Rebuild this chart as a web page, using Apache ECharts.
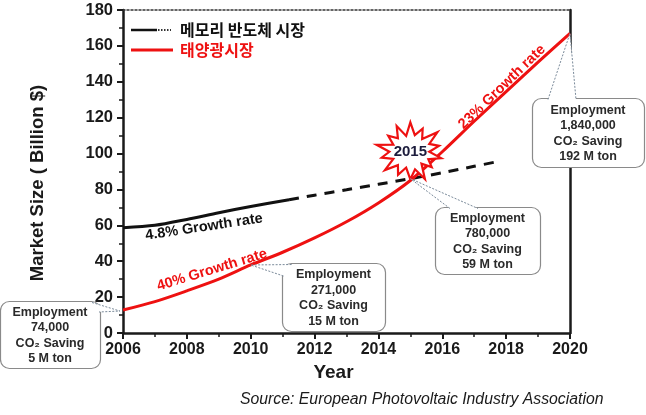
<!DOCTYPE html>
<html>
<head>
<meta charset="utf-8">
<script src="https://cdn.jsdelivr.net/npm/echarts@6/dist/echarts.min.js"></script>
<style>
html,body{margin:0;padding:0;background:#fff;}
#c{width:646px;height:415px;}
</style>
</head>
<body>
<div id="c"></div>
<script>
// ---- data ----
const solarYears = [2006, 2007, 2008, 2009, 2010, 2011, 2012, 2013, 2014, 2015, 2016, 2017, 2018, 2019, 2020];
const solarValues = [12.8, 17.5, 23.5, 30, 37.9, 45, 53, 62, 72.5, 85, 101, 118, 134.5, 151, 167];
const memoryActualYears = [2006, 2007, 2008, 2009, 2010, 2011.2];
const memoryActualValues = [58.7, 60, 63.3, 67, 70.5, 74.3];
const memoryForecastYears = [2011.2, 2012, 2013, 2014, 2015, 2016, 2017, 2017.7];
const memoryForecastValues = [74.3, 76.8, 79.8, 82.9, 86, 89.3, 92.9, 95.4];
const xTicks = [2006, 2008, 2010, 2012, 2014, 2016, 2018, 2020];
const yTicks = [0, 20, 40, 60, 80, 100, 120, 140, 160, 180];
const seriesNames = ['메모리 반도체 시장', '태양광시장'];
const callouts = [
  { year: 2006, value: 12.8, employment: '74,000', co2: '5 M ton' },
  { year: 2010, value: 37.9, employment: '271,000', co2: '15 M ton' },
  { year: 2015, value: 86, employment: '780,000', co2: '59 M ton' },
  { year: 2020, value: 167, employment: '1,840,000', co2: '192 M ton' }
];
const growthLabels = ['4.8% Growth rate', '40% Growth rate', '23% Growth rate'];
const highlightYear = '2015';
const sourceText = 'Source: European Photovoltaic Industry Association';

const zip = (xs, ys) => xs.map((x, i) => [x, ys[i]]);
const FONT = '"Liberation Sans", Arial, Helvetica, sans-serif';
const KFONT = '"Noto Sans CJK KR", "Noto Sans", sans-serif';

const chart = echarts.init(document.getElementById('c'), null, { renderer: 'canvas' });

const axisColor = '#1a1a1a';
chart.setOption({
  animation: false,
  backgroundColor: '#ffffff',
  grid: { left: 123, right: 76, top: 10, bottom: 82, containLabel: false },
  xAxis: [{
    type: 'value', min: xTicks[0], max: xTicks[xTicks.length - 1], interval: 2,
    position: 'bottom',
    axisLine: { show: true, onZero: false, lineStyle: { color: axisColor, width: 2.5 } },
    axisTick: { show: true, inside: false, length: 6, lineStyle: { color: axisColor, width: 2 } },
    minorTick: { show: true, splitNumber: 2, length: 4, lineStyle: { color: axisColor, width: 1.5 } },
    splitLine: { show: false },
    axisLabel: { fontFamily: FONT, fontSize: 16, fontWeight: 'bold', color: '#1a1a1a', margin: 9,
      formatter: v => String(v) },
    name: 'Year', nameLocation: 'middle', nameGap: 29,
    nameTextStyle: { fontFamily: FONT, fontSize: 19, fontWeight: 'bold', color: '#1a1a1a', padding: [0, 26, 0, 0] }
  }, {
    type: 'value', min: xTicks[0], max: xTicks[xTicks.length - 1], interval: 2,
    position: 'top',
    axisLine: { show: true, onZero: false, lineStyle: { color: '#333', width: 1.5, type: [2, 2] } },
    axisTick: { show: false }, axisLabel: { show: false }, splitLine: { show: false }
  }],
  yAxis: [{
    type: 'value', min: yTicks[0], max: yTicks[yTicks.length - 1], interval: 20,
    position: 'left',
    axisLine: { show: true, onZero: false, lineStyle: { color: axisColor, width: 2.5 } },
    axisTick: { show: true, inside: false, length: 6, lineStyle: { color: axisColor, width: 2 } },
    minorTick: { show: true, splitNumber: 2, length: 4, lineStyle: { color: axisColor, width: 1.5 } },
    splitLine: { show: false },
    axisLabel: { fontFamily: FONT, fontSize: 16.5, fontWeight: 'bold', color: '#1a1a1a', margin: 10 },
    name: 'Market Size ( Billion $)', nameLocation: 'middle', nameGap: 76, nameRotate: 90,
    nameTextStyle: { fontFamily: FONT, fontSize: 18.5, fontWeight: 'bold', color: '#1a1a1a', padding: [0, 23, 0, 0] }
  }, {
    type: 'value', min: yTicks[0], max: yTicks[yTicks.length - 1], interval: 20,
    position: 'right',
    axisLine: { show: true, onZero: false, lineStyle: { color: axisColor, width: 2.5 } },
    axisTick: { show: false }, axisLabel: { show: false }, splitLine: { show: false }
  }],
  series: [{
    name: seriesNames[0], type: 'line', data: zip(memoryActualYears, memoryActualValues),
    smooth: 0.3, showSymbol: false, lineStyle: { color: '#111', width: 3 }, z: 3
  }, {
    name: seriesNames[0] + ' (전망)', type: 'line', data: zip(memoryForecastYears, memoryForecastValues),
    smooth: 0.3, showSymbol: false, lineStyle: { color: '#111', width: 3, type: [10, 8] }, z: 3
  }, {
    name: seriesNames[1], type: 'line', data: zip(solarYears, solarValues),
    smooth: 0.3, showSymbol: false, lineStyle: { color: '#ee1111', width: 3 }, z: 4
  }]
});

function px(x, y) { return chart.convertToPixel({ xAxisIndex: 0, yAxisIndex: 0 }, [x, y]); }

const g = [];
const Z = 50;
// legend
g.push({ type: 'line', z: Z, shape: { x1: 131, y1: 30, x2: 157, y2: 30 }, style: { stroke: '#111', lineWidth: 2.5 } });
g.push({ type: 'line', z: Z, shape: { x1: 158, y1: 30, x2: 171, y2: 30 }, style: { stroke: '#333', lineWidth: 2, lineDash: [1.5, 1.5] } });
g.push({ type: 'text', z: Z, x: 180, y: 30, style: { text: seriesNames[0], font: 'bold 16px ' + KFONT, fill: '#111', textVerticalAlign: 'middle' } });
g.push({ type: 'line', z: Z, shape: { x1: 131, y1: 50, x2: 173, y2: 50 }, style: { stroke: '#ee1111', lineWidth: 3 } });
g.push({ type: 'text', z: Z, x: 180, y: 50, style: { text: seriesNames[1], font: 'bold 16px ' + KFONT, fill: '#ee1111', textVerticalAlign: 'middle' } });

// growth labels
const deg = Math.PI / 180;
g.push({ type: 'text', z: Z, x: 204, y: 227, rotation: 8.5 * deg, style: { text: growthLabels[0], font: 'bold 14.5px ' + FONT, fill: '#111', textAlign: 'center', textVerticalAlign: 'middle' } });
g.push({ type: 'text', z: Z, x: 212, y: 270, rotation: 17 * deg, style: { text: growthLabels[1], font: 'bold 14.5px ' + FONT, fill: '#ee1111', textAlign: 'center', textVerticalAlign: 'middle' } });
g.push({ type: 'text', z: Z, x: 502, y: 87, rotation: 44 * deg, style: { text: growthLabels[2], font: 'bold 14.5px ' + FONT, fill: '#ee1111', textAlign: 'center', textVerticalAlign: 'middle' } });

// starburst
const sc = px(2015, 101);
const outer = [31, 27, 33, 28, 30, 26, 32, 29, 27, 31, 28, 33, 27, 30];
const inner = [19, 18, 20, 18, 19, 17, 20, 18, 19, 18, 20, 18, 19, 18];
const pts = [];
const n = outer.length;
for (let i = 0; i < n; i++) {
  const a1 = -Math.PI / 2 + (i / n) * 2 * Math.PI;
  const a2 = a1 + Math.PI / n;
  pts.push([sc[0] + outer[i] * 1.05 * Math.cos(a1), sc[1] + outer[i] * 0.95 * Math.sin(a1)]);
  pts.push([sc[0] + inner[i] * 1.05 * Math.cos(a2), sc[1] + inner[i] * 0.9 * Math.sin(a2)]);
}
g.push({ type: 'polygon', z: Z, shape: { points: pts }, style: { fill: '#ffffff', stroke: '#ee1111', lineWidth: 2.2 } });
g.push({ type: 'text', z: Z + 1, x: sc[0], y: sc[1], style: { text: highlightYear, font: 'bold 15px ' + FONT, fill: '#1c1c3c', textAlign: 'center', textVerticalAlign: 'middle' } });

// callout boxes
const boxes = [
  { x: 0, y: 301, w: 100, h: 67, base: [[92, 302.5], [99, 312]], tipOff: [-3, 1] },
  { x: 282, y: 263, w: 103, h: 68, base: [[283.5, 276], [293, 264.5]], tipOff: [0, 0] },
  { x: 435, y: 207, w: 105, h: 67, base: [[450, 208.5], [478, 208.5]], tipOff: [0, 0] },
  { x: 532, y: 98, w: 112, h: 69, base: [[548, 99.5], [576, 99.5]], tipOff: [0, 0] }
];
callouts.forEach((c, i) => {
  const b = boxes[i];
  const p = px(c.year, c.value);
  const tip = [p[0] + b.tipOff[0], p[1] + b.tipOff[1]];
  g.push({ type: 'rect', z: Z + 2, shape: { x: b.x + 0.5, y: b.y + 0.5, width: b.w, height: b.h, r: 9 }, style: { fill: '#ffffff', stroke: '#8a8a8a', lineWidth: 1.2 } });
  g.push({ type: 'polygon', z: Z + 3, shape: { points: [b.base[0], tip, b.base[1]] }, style: { fill: '#ffffff', stroke: null } });
  g.push({ type: 'polyline', z: Z + 3, shape: { points: [b.base[0], tip, b.base[1]] }, style: { fill: null, stroke: '#7a8a9a', lineWidth: 1, lineDash: [2, 1.5] } });
  g.push({ type: 'text', z: Z + 4, x: b.x + b.w / 2, y: b.y + b.h / 2 + 1, style: {
    text: 'Employment\n' + c.employment + '\nCO₂ Saving\n' + c.co2,
    font: 'bold 12.5px ' + FONT, fill: '#2a2a2a', textAlign: 'center', textVerticalAlign: 'middle', lineHeight: 15.5 } });
});

// source
g.push({ type: 'text', z: Z, x: 240, y: 400, style: { text: sourceText, font: 'italic 15.8px ' + FONT, fill: '#1a1a1a', textVerticalAlign: 'middle' } });

chart.setOption({ graphic: g });
</script>
</body>
</html>
